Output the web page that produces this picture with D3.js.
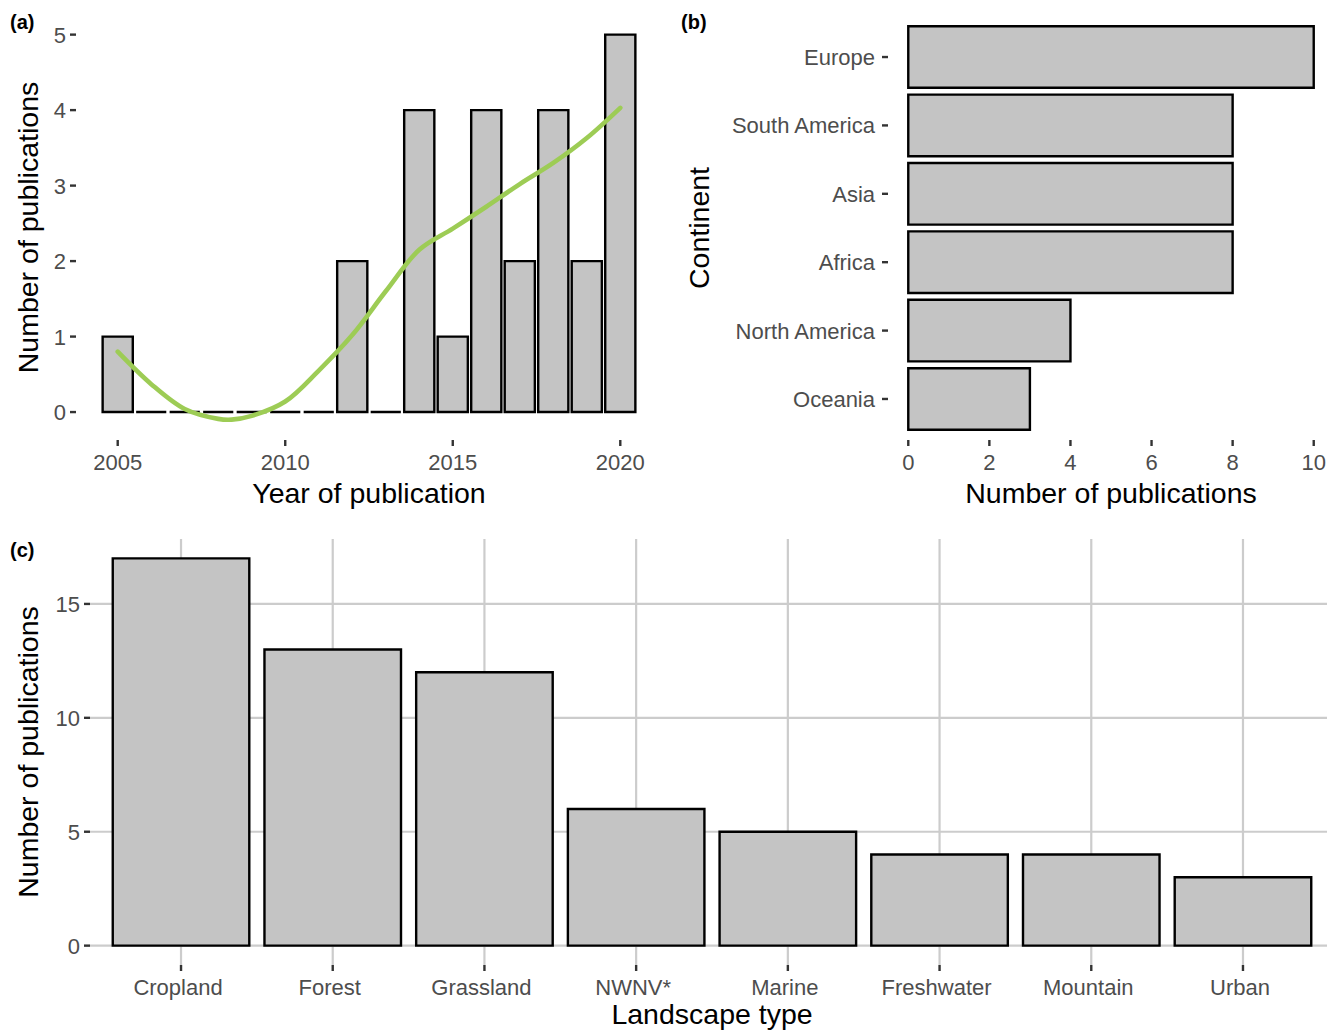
<!DOCTYPE html>
<html>
<head>
<meta charset="utf-8">
<script src="https://cdn.jsdelivr.net/npm/d3@7"></script>
<style>
  body { margin: 0; background: #fff; }
  svg text { font-family: "Liberation Sans", Arial, sans-serif; }
</style>
</head>
<body>
<div id="fig"></div>
<script>
// panel (a): publications per year
const years = [2005, 2006, 2007, 2008, 2009, 2010, 2011, 2012, 2013, 2014, 2015, 2016, 2017, 2018, 2019, 2020];
const yearCounts = [1, 0, 0, 0, 0, 0, 0, 2, 0, 4, 1, 4, 2, 4, 2, 5];
// smoothed trend
const smoothYears = [2005, 2006, 2007, 2008, 2008.4, 2009, 2010, 2011, 2012, 2013, 2014, 2015, 2016, 2017, 2018, 2019, 2020];
const smoothVals = [0.8, 0.37, 0.04, -0.09, -0.1, -0.05, 0.14, 0.55, 1.02, 1.6, 2.15, 2.43, 2.72, 3.02, 3.3, 3.63, 4.03];
const yearTicks = [2005, 2010, 2015, 2020];
const countTicksA = [0, 1, 2, 3, 4, 5];

// panel (b): continents
const continents = ["Europe", "South America", "Asia", "Africa", "North America", "Oceania"];
const continentCounts = [10, 8, 8, 8, 4, 3];
const countTicksB = [0, 2, 4, 6, 8, 10];

// panel (c): landscape types
const landscapes = ["Cropland", "Forest", "Grassland", "NWNV*", "Marine", "Freshwater", "Mountain", "Urban"];
const landscapeCounts = [17, 13, 12, 6, 5, 4, 4, 3];
const countTicksC = [0, 5, 10, 15];

const W = 1327, H = 1031;
const fill = "#c4c4c4", tickCol = "#333333", labCol = "#4d4d4d";
const tickSize = 22, titleSize = 28.5, barStroke = 2.4;

const svg = d3.select("#fig").append("svg")
  .attr("width", W).attr("height", H);

function barPath(x0, x1, y0, y1) {
  // path so that zero-height bars still show their outline
  return `M${x0},${y0}H${x1}V${y1}H${x0}Z`;
}

function tag(txt, x, y) {
  svg.append("text").attr("x", x).attr("y", y)
    .attr("font-size", 20).attr("font-weight", "bold").attr("fill", "#000")
    .text(txt);
}

function yTicks(scale, vals, xLeft) {
  const g = svg.append("g");
  vals.forEach(v => {
    g.append("line").attr("x1", xLeft - 6).attr("x2", xLeft)
      .attr("y1", scale(v)).attr("y2", scale(v))
      .attr("stroke", tickCol).attr("stroke-width", 2.4);
    g.append("text").attr("x", xLeft - 10).attr("y", scale(v))
      .attr("dy", "0.36em").attr("text-anchor", "end")
      .attr("font-size", tickSize).attr("fill", labCol).text(v);
  });
}

function xTicks(scale, vals, yBottom) {
  const g = svg.append("g");
  vals.forEach(v => {
    g.append("line").attr("x1", scale(v)).attr("x2", scale(v))
      .attr("y1", yBottom).attr("y2", yBottom + 6)
      .attr("stroke", tickCol).attr("stroke-width", 2.4);
    g.append("text").attr("x", scale(v)).attr("y", yBottom + 30)
      .attr("text-anchor", "middle")
      .attr("font-size", tickSize).attr("fill", labCol).text(v);
  });
}

function xTitle(txt, x, y) {
  svg.append("text").attr("x", x).attr("y", y).attr("text-anchor", "middle")
    .attr("font-size", titleSize).attr("fill", "#000").text(txt);
}

function yTitle(txt, x, y) {
  svg.append("text").attr("transform", `translate(${x},${y}) rotate(-90)`)
    .attr("text-anchor", "middle")
    .attr("font-size", titleSize).attr("fill", "#000").text(txt);
}

// ---------- panel (a) ----------
const aL = 76, aR = 662, aT = 15, aB = 440;
const xA = d3.scaleLinear().domain([2003.755, 2021.245]).range([aL, aR]);
const yA = d3.scaleLinear().domain([-0.37, 5.26]).range([aB, aT]);

svg.append("g").selectAll("path")
  .data(years)
  .join("path")
  .attr("d", (d, i) => barPath(xA(d - 0.45), xA(d + 0.45), yA(0), yA(yearCounts[i])))
  .attr("fill", fill).attr("stroke", "#000").attr("stroke-width", barStroke);

const smooth = d3.line()
  .x(d => xA(d[0])).y(d => yA(d[1]))
  .curve(d3.curveCatmullRom);
svg.append("path")
  .attr("d", smooth(smoothYears.map((y, i) => [y, smoothVals[i]])))
  .attr("fill", "none").attr("stroke", "#9dcc55").attr("stroke-width", 4.6)
  .attr("stroke-linecap", "round");

yTicks(yA, countTicksA, aL);
xTicks(xA, yearTicks, aB);
xTitle("Year of publication", (aL + aR) / 2, 503);
yTitle("Number of publications", 38, (aT + aB) / 2);
tag("(a)", 10, 29);

// ---------- panel (b) ----------
const bL = 888, bR = 1334, bT = 16, bB = 440;
const xB = d3.scaleLinear().domain([-0.5, 10.5]).range([bL, bR]);
const yB = d3.scalePoint().domain(continents).range([bT, bB]).padding(0.6);
const bandB = yB.step() * 0.9;

svg.append("g").selectAll("path")
  .data(continents)
  .join("path")
  .attr("d", (d, i) => barPath(xB(0), xB(continentCounts[i]), yB(d) - bandB / 2, yB(d) + bandB / 2))
  .attr("fill", fill).attr("stroke", "#000").attr("stroke-width", barStroke);

continents.forEach(c => {
  svg.append("line").attr("x1", bL - 6).attr("x2", bL)
    .attr("y1", yB(c)).attr("y2", yB(c))
    .attr("stroke", tickCol).attr("stroke-width", 2.4);
  svg.append("text").attr("x", bL - 13).attr("y", yB(c))
    .attr("dy", "0.36em").attr("text-anchor", "end")
    .attr("font-size", tickSize).attr("fill", labCol).text(c);
});
xTicks(xB, countTicksB, bB);
xTitle("Number of publications", (xB(0) + xB(10)) / 2, 503);
yTitle("Continent", 709, (bT + bB) / 2);
tag("(b)", 681, 29);

// ---------- panel (c) ----------
const cL = 90, cR = 1334, cT = 539, cB = 965;
const xC = d3.scalePoint().domain(landscapes).range([cL, cR]).padding(0.6);
const yC = d3.scaleLinear().domain([-0.85, 17.85]).range([cB, cT]);
const bandC = xC.step() * 0.9;

const grid = svg.append("g");
countTicksC.forEach(v => {
  grid.append("line").attr("x1", cL).attr("x2", cR)
    .attr("y1", yC(v)).attr("y2", yC(v))
    .attr("stroke", "#cccccc").attr("stroke-width", 2.2);
});
landscapes.forEach(l => {
  grid.append("line").attr("x1", xC(l)).attr("x2", xC(l))
    .attr("y1", cT).attr("y2", cB)
    .attr("stroke", "#cccccc").attr("stroke-width", 2.2);
});

svg.append("g").selectAll("path")
  .data(landscapes)
  .join("path")
  .attr("d", (d, i) => barPath(xC(d) - bandC / 2, xC(d) + bandC / 2, yC(0), yC(landscapeCounts[i])))
  .attr("fill", fill).attr("stroke", "#000").attr("stroke-width", barStroke);

yTicks(yC, countTicksC, cL);
landscapes.forEach(l => {
  svg.append("line").attr("x1", xC(l)).attr("x2", xC(l))
    .attr("y1", cB).attr("y2", cB + 6)
    .attr("stroke", tickCol).attr("stroke-width", 2.4);
  svg.append("text").attr("x", xC(l) - 3).attr("y", cB + 30)
    .attr("text-anchor", "middle")
    .attr("font-size", tickSize).attr("fill", labCol).text(l);
});
xTitle("Landscape type", (cL + cR) / 2, 1024);
yTitle("Number of publications", 38, (cT + cB) / 2);
tag("(c)", 10, 557);
</script>
</body>
</html>
